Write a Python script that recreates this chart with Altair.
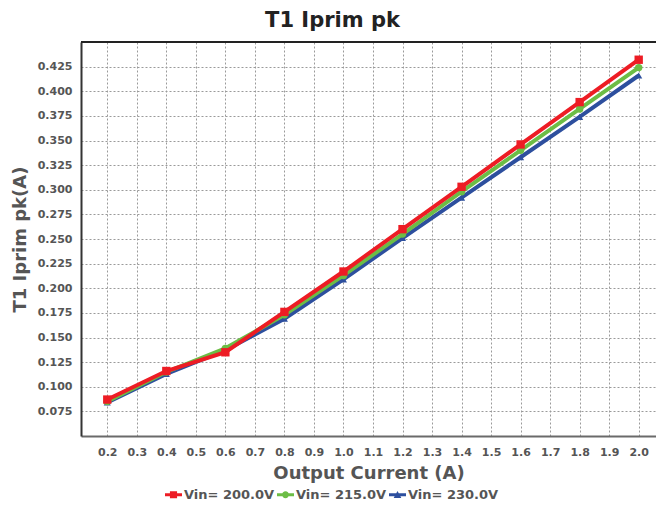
import altair as alt
import pandas as pd

# ---- data ----
current = [0.2, 0.4, 0.6, 0.8, 1.0, 1.2, 1.4, 1.6, 1.8, 2.0]
vin200 = [0.087, 0.116, 0.135, 0.176, 0.217, 0.260, 0.303, 0.346, 0.389, 0.432]
vin215 = [0.085, 0.115, 0.139, 0.173, 0.213, 0.255, 0.298, 0.340, 0.382, 0.424]
vin230 = [0.084, 0.113, 0.137, 0.169, 0.209, 0.251, 0.292, 0.333, 0.374, 0.416]
series_names = ["Vin= 200.0V", "Vin= 215.0V", "Vin= 230.0V"]
x_ticks = [0.2, 0.3, 0.4, 0.5, 0.6, 0.7, 0.8, 0.9, 1.0, 1.1, 1.2, 1.3, 1.4, 1.5,
           1.6, 1.7, 1.8, 1.9, 2.0]
y_ticks = [0.075, 0.1, 0.125, 0.15, 0.175, 0.2, 0.225, 0.25, 0.275, 0.3, 0.325,
           0.35, 0.375, 0.4, 0.425]

colors = ["#ED1C24", "#6CBD45", "#2D4F9E"]
marker_shapes = ["square", "circle", "triangle-up"]
marker_sizes = [70, 55, 50]
legend_paths = [
    "M-1,-0.18H1V0.18H-1Z M-0.42,-0.42H0.42V0.42H-0.42Z",
    "M-1,-0.18H1V0.18H-1Z M-0.4,0A0.4,0.4 0 1,1 0.4,0A0.4,0.4 0 1,1 -0.4,0Z",
    "M-1,-0.18H1V0.18H-1Z M0,-0.45L0.45,0.38L-0.45,0.38Z",
]

rows = []
for name, vals in zip(series_names, [vin200, vin215, vin230]):
    for c, v in zip(current, vals):
        rows.append({"current": c, "ipk": v, "series": name})
df = pd.DataFrame(rows)

W, H = 575, 394

x_enc = alt.X(
    "current:Q",
    scale=alt.Scale(domain=[0.111, 2.0586], nice=False, zero=False),
    axis=alt.Axis(values=x_ticks, format=".1f", title="Output Current (A)",
                  labelPadding=10, titleY=37, titleBaseline="middle",
                  domainColor="#6a6a6a", domainWidth=2),
)
y_enc = alt.Y(
    "ipk:Q",
    scale=alt.Scale(domain=[0.05, 0.45], nice=False, zero=False),
    axis=alt.Axis(values=y_ticks, format=".3f", title="T1 Iprim pk(A)",
                  labelPadding=9, titleX=-61, titleY=H / 2, titleAngle=270,
                  titleAlign="center", titleBaseline="middle",
                  domainColor="#333333", domainWidth=2),
)

base = alt.Chart(df)
layers = []
for idx in [2, 1, 0]:
    name = series_names[idx]
    sub = base.transform_filter(alt.datum.series == name)
    layers.append(sub.mark_line(color=colors[idx], strokeWidth=4).encode(x=x_enc, y=y_enc))
    layers.append(sub.mark_point(filled=True, opacity=1, shape=marker_shapes[idx],
                                 size=marker_sizes[idx], color=colors[idx])
                  .encode(x=x_enc, y=y_enc))

legend_layer = base.transform_filter("false").mark_point(filled=True, opacity=1).encode(
    x=x_enc,
    y=y_enc,
    color=alt.Color("series:N", scale=alt.Scale(domain=series_names, range=colors), title=None),
    shape=alt.Shape("series:N", scale=alt.Scale(domain=series_names, range=legend_paths), title=None),
)

top_border = alt.Chart(pd.DataFrame({"a": [0]})).mark_rule(color="#222222", strokeWidth=2).encode(
    x=alt.value(0), x2=alt.value(W), y=alt.value(0)
)

chart = alt.layer(*layers, legend_layer, top_border).properties(
    width=W,
    height=H,
    autosize=alt.AutoSizeParams(type="none"),
    padding={"left": 73, "top": 34, "right": 0, "bottom": 65},
    title=alt.Title("T1 Iprim pk", font="DejaVu Sans", fontSize=21, fontWeight="bold",
                    color="#222222", anchor="middle", dx=-36, offset=14, dy=21,
                    baseline="alphabetic"),
).configure_view(stroke=None).configure_axis(
    grid=True,
    gridColor="#9a9a9a",
    gridDash=[2, 2],
    gridWidth=1,
    ticks=False,
    tickSize=0,
    labelFont="DejaVu Sans",
    labelFontWeight="bold",
    labelFontSize=11,
    labelColor="#555555",
    titleFont="DejaVu Sans",
    titleFontWeight="bold",
    titleFontSize=18,
    titleColor="#555555",
).configure_legend(
    orient="none",
    legendX=84,
    legendY=444,
    direction="horizontal",
    padding=0,
    symbolSize=289,
    symbolStrokeWidth=0,
    labelFont="DejaVu Sans",
    labelFontWeight="bold",
    labelFontSize=13,
    labelColor="#555555",
    labelOffset=2,
    columnPadding=2,
)

chart.save("out.html", embed_options={"renderer": "svg", "actions": False})
